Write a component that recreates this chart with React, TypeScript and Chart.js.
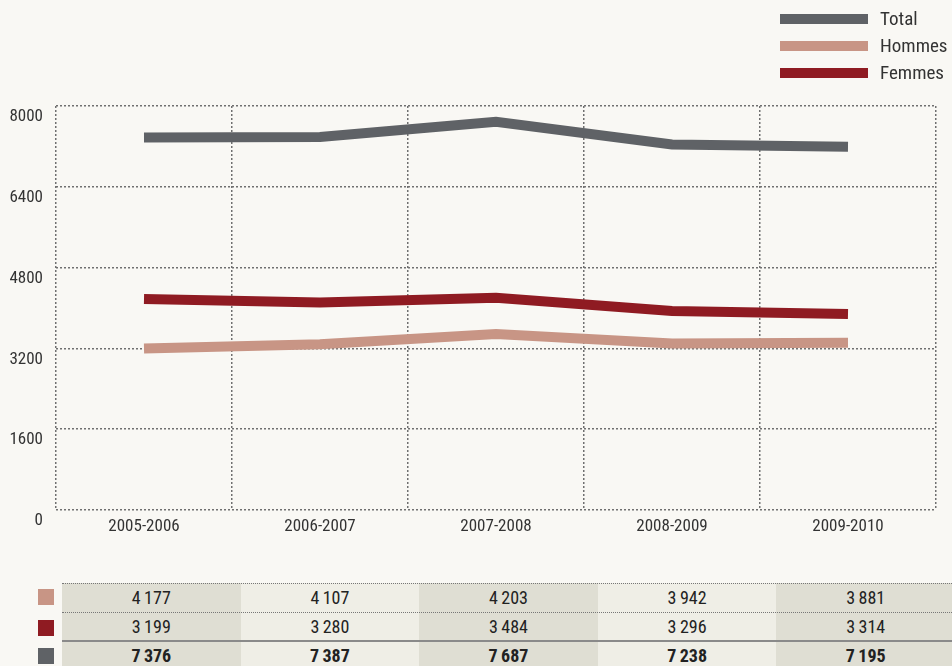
import React, { useEffect, useRef } from "react";
import { Chart, registerables } from "chart.js";

Chart.register(...registerables);

const categories = ["2005-2006", "2006-2007", "2007-2008", "2008-2009", "2009-2010"];
const totalValues = [7376, 7387, 7687, 7238, 7195];
const hommesValues = [3199, 3280, 3484, 3296, 3314];
const femmesValues = [4177, 4107, 4203, 3942, 3881];
const yMin = 0;
const yMax = 8000;
const yStep = 1600;

const FONT = "'Liberation Sans Narrow', 'Arial Narrow', 'Roboto Condensed', 'Liberation Sans', sans-serif";
const BG = "#f9f8f4";
const C_TOTAL = "#5f6266";
const C_HOMMES = "#c89585";
const C_FEMMES = "#8f1b22";
const GRID = "#707070";

const fmt = (v: number) => {
  const th = Math.floor(v / 1000);
  const rest = String(v % 1000).padStart(3, "0");
  return th > 0 ? `${th}\u2009${rest}` : String(v);
};

// Table rows as printed under the chart (swatch colour, values, bold)
const tableRows = [
  { color: C_HOMMES, values: femmesValues, bold: false },
  { color: C_FEMMES, values: hommesValues, bold: false },
  { color: C_TOTAL, values: totalValues, bold: true },
];

export default function App() {
  const ref = useRef<HTMLCanvasElement | null>(null);

  useEffect(() => {
    if (!ref.current) return;
    const chart = new Chart(ref.current, {
      type: "line",
      data: {
        labels: categories,
        datasets: [
          { label: "Total", data: totalValues, borderColor: C_TOTAL, backgroundColor: C_TOTAL, borderWidth: 10, pointRadius: 0, tension: 0, borderCapStyle: "butt" },
          { label: "Femmes", data: femmesValues, borderColor: C_FEMMES, backgroundColor: C_FEMMES, borderWidth: 10, pointRadius: 0, tension: 0, borderCapStyle: "butt" },
          { label: "Hommes", data: hommesValues, borderColor: C_HOMMES, backgroundColor: C_HOMMES, borderWidth: 10, pointRadius: 0, tension: 0, borderCapStyle: "butt" },
        ],
      },
      options: {
        responsive: false,
        animation: false,
        layout: { padding: { left: 0, top: 106, right: 16, bottom: 0 } },
        plugins: { legend: { display: false }, tooltip: { enabled: false } },
        scales: {
          x: {
            offset: true,
            grid: { offset: true, color: GRID, lineWidth: 1.5, drawTicks: false },
            border: { display: false, dash: [2, 2] },
            ticks: { color: "#333", font: { family: FONT, size: 17 }, padding: 7, maxRotation: 0 },
            afterFit: (s: any) => { s.height = 50; },
          },
          y: {
            min: yMin,
            max: yMax,
            grid: { color: GRID, lineWidth: 1.5, drawTicks: false },
            border: { display: false, dash: [2, 2] },
            ticks: { stepSize: yStep, color: "#333", font: { family: FONT, size: 17 }, padding: 13, labelOffset: 11, callback: (v: any) => String(v) },
            afterFit: (s: any) => { s.width = 56; },
          },
        },
      },
    } as any);
    return () => chart.destroy();
  }, []);

  const legendItems = [
    { label: "Total", color: C_TOTAL, top: 14 },
    { label: "Hommes", color: C_HOMMES, top: 41 },
    { label: "Femmes", color: C_FEMMES, top: 68 },
  ];

  const colLeft = 62;
  const colW = 178.6;
  const rowTops = [583, 612, 641];
  const rowH = 29;

  return (
    <div style={{ position: "fixed", left: 0, top: 0, width: 952, height: 666, background: BG, overflow: "hidden", fontFamily: FONT }}>
      <canvas ref={ref} width={952} height={560} style={{ position: "absolute", left: 0, top: 0 }} />
      {legendItems.map((it) => (
        <div key={it.label}>
          <div style={{ position: "absolute", left: 780, top: it.top, width: 88, height: 10, background: it.color }} />
          <div style={{ position: "absolute", left: 880, top: it.top - 6, fontSize: 19, lineHeight: "22px", color: "#333" }}>{it.label}</div>
        </div>
      ))}
      {categories.map((_, ci) => (
        <div key={"col" + ci} style={{ position: "absolute", left: colLeft + ci * colW, top: rowTops[0], width: colW + 0.5, height: 90, background: ci % 2 === 0 ? "#dfded3" : "#efeee6" }} />
      ))}
      {tableRows.map((r, ri) => (
        <div key={"row" + ri}>
          <div style={{ position: "absolute", left: 38, top: [589, 620, 648][ri], width: 16, height: 16, background: r.color }} />
          {r.values.map((v, ci) => (
            <div key={ci} style={{ position: "absolute", left: colLeft + ci * colW, top: rowTops[ri], width: colW, height: rowH, lineHeight: rowH + "px", textAlign: "center", fontSize: 18, fontWeight: r.bold ? 700 : 400, color: "#222" }}>{fmt(v)}</div>
          ))}
        </div>
      ))}
      <div style={{ position: "absolute", left: colLeft, top: 583, width: 952 - colLeft, height: 0, borderTop: "1px dotted #777" }} />
      <div style={{ position: "absolute", left: colLeft, top: 612, width: 952 - colLeft, height: 0, borderTop: "1px dotted #777" }} />
      <div style={{ position: "absolute", left: colLeft, top: 640, width: 952 - colLeft, height: 2, background: "#8a8a8a" }} />
    </div>
  );
}
